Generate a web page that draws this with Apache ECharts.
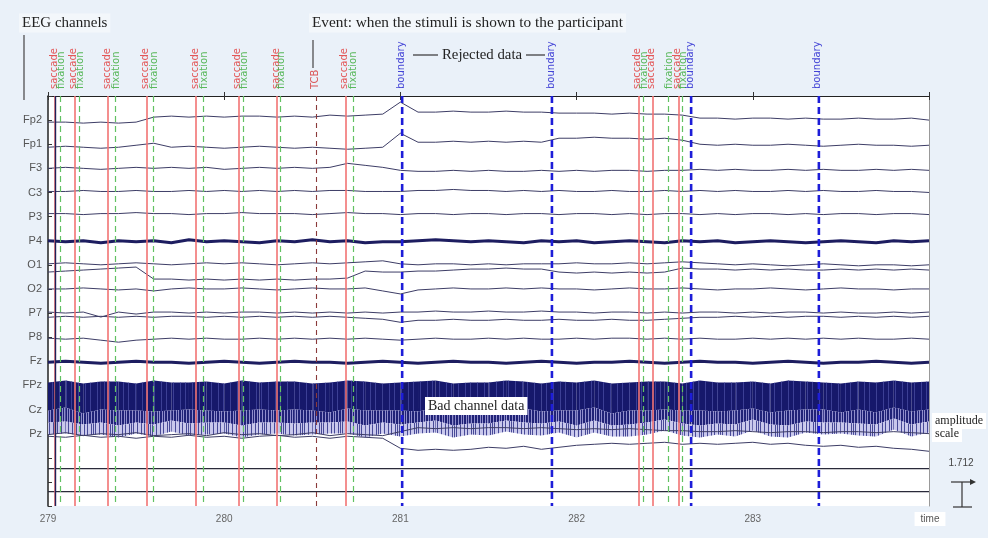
<!DOCTYPE html>
<html>
<head>
<meta charset="utf-8">
<script src="https://cdn.jsdelivr.net/npm/echarts@6/dist/echarts.min.js"></script>
<style>
html, body { margin: 0; padding: 0; background: #eaf1f9; }
#chart { width: 988px; height: 538px; }
</style>
</head>
<body>
<div id="chart"></div>
<script>
// sample times (s)
var times = [279.0,279.1,279.2,279.3,279.4,279.5,279.6,279.7,279.8,279.9,
             280.0,280.1,280.2,280.3,280.4,280.5,280.6,280.7,280.8,280.9,
             281.0,281.1,281.2,281.3,281.4,281.5,281.6,281.7,281.8,281.9,
             282.0,282.1,282.2,282.3,282.4,282.5,282.6,282.7,282.8,282.9,
             283.0,283.1,283.2,283.3,283.4,283.5,283.6,283.7,283.8,283.9,284.0];

var channelNames = ['Fp2','Fp1','F3','C3','P3','P4','O1','O2','P7','P8','Fz','FPz','Cz','Pz'];

// deviation of each trace from its channel baseline (up = positive, 24.1 units per channel row)
var fp2 = [-2,-2,-3,-2,-3,-2,3,4,3,4,3,4,4,3,4,3,5,4,5,6,18,8,8,9,8,8,9,8,8,7,7,7,6,7,6,6,5,2,2,1,2,2,1,2,1,1,2,1,1,2,0];
var fp1 = [-3,-2,-3,-4,-3,-1,1,-3,-2,-3,-4,-3,-2,-3,-4,-3,-4,-5,-4,-3,11,2,2,3,2,3,2,3,2,6,6,7,6,6,5,6,4,0,-1,0,-1,-1,0,-1,-2,-1,0,-1,-1,-2,-1];
var f3  = [0,1,0,-1,0,1,0,1,0,1,-1,0,1,0,1,0,1,5,3,1,-2,-3,-3,-2,-3,-2,-3,-3,-2,-3,-2,-3,-2,-2,-3,-2,-2,-1,-2,-1,-2,-2,-1,-2,-1,-2,-2,-1,-2,-1,-2];
var c3  = [1,1,2,1,1,2,1,1,2,1,2,1,2,1,2,1,2,2,1,1,1,2,2,3,2,2,1,2,1,2,1,1,2,1,1,2,1,2,1,2,1,1,2,1,2,1,1,2,1,1,0];
var p3  = [3,3,2,3,3,4,3,3,2,3,3,4,3,3,3,2,3,4,3,3,2,3,3,2,3,3,2,3,3,2,3,3,2,3,2,3,3,2,3,2,3,3,2,3,2,3,3,2,3,3,2];
var p4  = [0,-1,0,-2,0,-1,0,-2,1,-1,0,-1,-2,0,-1,1,-1,0,-2,-1,-1,0,1,0,-1,0,-1,-2,0,-1,0,-2,-1,0,-1,-2,0,-1,0,-2,-1,0,-1,-2,-1,0,-1,-2,0,-1,0];
var o1  = [1,2,1,0,1,2,1,0,1,2,1,2,1,0,1,2,1,2,3,4,1,0,1,1,0,1,0,1,1,1,2,1,1,2,1,2,3,2,1,0,1,0,-1,0,1,0,-1,0,0,-1,0];
var o1b = [0,1,2,3,4,5,-7,-7,-8,-7,-8,-7,-8,-7,-8,-7,-7,-6,1,0,0,1,1,2,3,3,4,3,3,0,-1,0,-1,0,-1,0,4,3,3,2,3,2,3,2,2,3,2,3,2,3,2];
var o2  = [0,0,1,0,-1,0,-2,0,1,0,0,1,0,-1,0,1,0,0,1,-2,-5,-1,0,1,0,0,1,0,1,0,0,-1,0,1,0,0,1,0,-1,0,0,1,0,-1,0,1,0,0,-1,0,0];
var p7  = [1,0,1,-4,1,-1,1,1,0,1,0,1,1,0,1,0,1,0,1,0,1,1,2,1,1,2,1,1,2,1,1,0,1,1,0,1,0,1,1,0,1,0,1,1,0,1,0,0,1,0,1];
var p7b = [3,4,3,4,3,4,3,4,4,3,4,3,4,3,4,3,4,3,2,1,-2,0,0,1,0,0,1,0,0,1,0,0,1,0,0,1,2,3,3,4,3,4,3,4,4,3,4,3,4,3,4];
var p8  = [-1,-2,-1,-3,-5,-3,-2,-1,-2,-1,-2,-2,-1,-2,-1,-2,-1,-2,-1,-2,-3,-2,-1,-2,-2,-1,-2,-1,-2,-2,-1,-2,-1,-1,-2,-1,-2,-1,-2,-2,-1,-2,-1,-2,-1,-2,-1,-2,-2,-1,-2];
var fz  = [-1,0,-1,-2,-1,0,-1,-1,-2,-1,0,-1,-2,-1,0,-1,-1,-2,-1,0,-1,-2,-1,0,-1,-1,-2,-1,0,-1,-2,-1,-1,0,-1,-2,-1,0,-1,-1,-2,-1,0,-1,-2,-1,-1,0,-1,-2,-1];
var pz  = [-1,1,-2,0,-1,1,-2,-1,0,-2,1,-1,0,-2,-1,1,-2,0,-1,-2,2,6,5,6,5,6,6,5,6,5,4,5,4,5,4,3,3,2,2,3,2,1,2,2,1,2,2,1,2,1,0];
var pz2 = [14,13,15,13,14,12,14,13,15,13,14,12,14,15,13,14,12,14,13,12,2,0,1,0,1,3,2,4,1,3,5,6,7,6,7,8,6,7,6,7,8,6,7,5,4,5,3,4,2,1,-1];

// bad channels FPz / Cz: ragged top edge and band depths
var bandTop   = [3,5,2,4,4,2,5,3,3,4,2,5,3,4,4,2,3,5,4,2,3,4,5,2,3,3,5,4,2,4,3,5,2,3,4,4,2,5,3,3,4,2,5,4,3,2,4,3,5,3,4];
var darkDepth = [28,27,30,28,29,27,31,28,27,29,28,30,27,29,28,27,30,28,29,27,28,30,28,27,29,28,30,27,28,29,28,27,30,28,29,28,27,30,29,28,27,29,30,28,27,29,28,30,27,29,28];
var midDepth  = [12,14,11,13,15,12,13,10,14,12,11,15,13,12,14,12,10,13,15,12,14,11,12,15,12,13,10,14,12,11,15,13,12,14,12,10,13,15,12,14,11,12,15,12,13,10,14,12,11,13,12];
var lightDepth= [12,12,11,12,12,11,12,11,12,12,11,12,12,11,12,12,11,12,12,11,12,11,12,12,11,12,11,12,12,11,12,12,11,12,12,11,12,12,11,12,11,12,12,11,12,11,12,12,11,12,11];

// flat channels below Pz
var flatLevels = [15.45, 16.4];

// events (s)
var saccadeTimes  = [279.04,279.15,279.34,279.56,279.84,280.08,280.30,280.69,282.35,282.43,282.58];
var fixationTimes = [279.07,279.18,279.38,279.60,279.88,280.11,280.32,280.73,282.38,282.52,282.60];
var boundaryTimes = [281.01,281.86,282.65,283.375];
var stimTimes     = [280.52];

var unitsPerRow = 24.1;
var traceColor = '#3d3d66';

var chart = echarts.init(document.getElementById('chart'));

function trace(name, row, dev, width, color) {
  return {
    name: name, type: 'line', symbol: 'none', z: 4, silent: true,
    data: times.map(function (t, i) { return [t, row - dev[i] / unitsPerRow]; }),
    lineStyle: { color: color || traceColor, width: width || 1 }
  };
}

function stripes(fg, xs) {
  var c = document.createElement('canvas');
  c.width = 19; c.height = 8;
  var g = c.getContext('2d');
  g.fillStyle = fg;
  xs.forEach(function (x) { g.fillRect(x, 0, 1, 8); });
  return c;
}
var darkPattern = { image: stripes('rgba(70,74,160,0.8)', [2, 9, 14]), repeat: 'repeat' };
var midPattern = { image: stripes('rgba(20,22,110,0.9)', [0, 1, 3, 4, 6, 8, 9, 11, 13, 14, 16, 17]), repeat: 'repeat' };
var lightPattern = { image: stripes('rgba(40,42,130,0.8)', [0, 4, 8, 11, 15, 17]), repeat: 'repeat' };

// band edges in row units, one segment per pair of samples
var bandRows = times.map(function (t, i) {
  var top = 12 - bandTop[i] / unitsPerRow;
  var b1 = top + darkDepth[i] / unitsPerRow;
  var b2 = b1 + midDepth[i] / unitsPerRow;
  var b3 = b2 + lightDepth[i] / unitsPerRow;
  return [t, top, b1, b2, b3];
});
var bandSegs = bandRows.slice(0, -1).map(function (r, i) {
  return r.concat(bandRows[i + 1]);
});

var eventLines = [];
saccadeTimes.forEach(function (t) {
  eventLines.push({ xAxis: t, lineStyle: { color: '#f27373', width: 1.6, type: 'solid' } });
});
fixationTimes.forEach(function (t) {
  eventLines.push({ xAxis: t, lineStyle: { color: '#62c262', width: 1.2, type: [6, 4] } });
});
stimTimes.forEach(function (t) {
  eventLines.push({ xAxis: t, lineStyle: { color: '#8a3a3a', width: 1.1, type: [5, 4] } });
});
eventLines.push({ xAxis: 279.035, lineStyle: { color: '#22225a', width: 1.4, type: 'solid' } });

var series = [
  {
    name: 'events', type: 'line', symbol: 'none', z: 1, silent: true,
    data: [[279, 0], [284, 0]], lineStyle: { opacity: 0 },
    markLine: { symbol: ['none', 'none'], silent: true, label: { show: false }, data: eventLines }
  },
  {
    name: 'FPz / Cz', type: 'custom', z: 3, silent: true,
    data: bandSegs,
    encode: { x: [0, 5], y: [1, 4] },
    renderItem: function (params, api) {
      var p = function (xi, yi) { return api.coord([api.value(xi), api.value(yi)]); };
      var a = [p(0, 1), p(0, 2), p(0, 3), p(0, 4)];
      var b = [p(5, 6), p(5, 7), p(5, 8), p(5, 9)];
      function quad(k) { return [a[k], b[k], b[k + 1], a[k + 1]]; }
      return {
        type: 'group',
        children: [
          { type: 'polygon', shape: { points: quad(0) }, style: { fill: '#16186b' } },
          { type: 'polygon', shape: { points: quad(0) }, style: { fill: darkPattern } },
          { type: 'polygon', shape: { points: quad(1) }, style: { fill: '#8f8dcc' } },
          { type: 'polygon', shape: { points: quad(1) }, style: { fill: midPattern } },
          { type: 'polygon', shape: { points: quad(2) }, style: { fill: '#c9c8ec' } },
          { type: 'polygon', shape: { points: quad(2) }, style: { fill: lightPattern } }
        ]
      };
    }
  },
  trace('Fp2', 1, fp2),
  trace('Fp1', 2, fp1),
  trace('F3', 3, f3),
  trace('C3', 4, c3),
  trace('P3', 5, p3),
  trace('P4', 6, p4, 3, '#1d1d60'),
  trace('O1', 7, o1),
  trace('O1b', 7.3, o1b),
  trace('O2', 8, o2),
  trace('P7', 9, p7),
  trace('P7b', 9.3, p7b),
  trace('P8', 10, p8),
  trace('Fz', 11, fz, 3, '#1d1d60'),
  trace('Pz', 14, pz),
  trace('Pz2', 14.69, pz2)
];
flatLevels.forEach(function (v, k) {
  series.push({
    name: 'flat' + k, type: 'line', symbol: 'none', z: 4, silent: true,
    data: [[279, v], [284, v]], lineStyle: { color: '#2a2a3a', width: 1.2 }
  });
});
// boundary events drawn last so they sit above the bad-channel band
boundaryTimes.forEach(function (t, k) {
  series.push({
    name: 'boundary' + k, type: 'line', symbol: 'none', z: 10, silent: true,
    data: [[t, 0], [t, 17]], lineStyle: { color: '#1d1dd8', width: 2.6, type: [7, 4] }
  });
});

chart.setOption({
  backgroundColor: '#eaf1f9',
  animation: false,
  grid: { left: 48, right: 59, top: 96, bottom: 32, show: true, backgroundColor: '#ffffff', borderWidth: 0 },
  xAxis: [
    {
      type: 'value', min: 279, max: 284, interval: 1,
      axisLine: { lineStyle: { color: '#333', width: 1.2 } },
      axisTick: { inside: true, length: 4, lineStyle: { color: '#333' } },
      axisLabel: {
        color: '#666', fontSize: 10, fontFamily: 'Liberation Sans', margin: 8,
        formatter: function (v) { return v >= 284 ? '' : String(v); }
      },
      splitLine: { show: false }
    },
    {
      type: 'value', position: 'top', min: 279, max: 284, interval: 1,
      axisLine: { onZero: false, lineStyle: { color: '#222', width: 1.2 } },
      axisTick: { inside: true, length: 4, lineStyle: { color: '#333' } },
      axisLabel: { show: false }, splitLine: { show: false }
    }
  ],
  yAxis: [
    {
      type: 'value', inverse: true, min: 0, max: 17, interval: 1,
      axisLine: { show: true, lineStyle: { color: '#222', width: 1.5 } },
      axisTick: { show: true, inside: true, length: 4, lineStyle: { color: '#333' } },
      axisLabel: {
        color: '#555', fontSize: 11, fontFamily: 'Liberation Sans', margin: 6,
        formatter: function (v) { return channelNames[v - 1] || ''; }
      },
      splitLine: { show: false }
    },
    {
      type: 'value', position: 'right', inverse: true, min: 0, max: 17, interval: 1,
      axisLine: { show: true, lineStyle: { color: '#999', width: 1 } },
      axisTick: { show: false }, axisLabel: { show: false }, splitLine: { show: false }
    }
  ],
  series: series
});

// event labels above the plot, placed through the x scale
var graphics = [];
function eventLabel(t, text, color, dx) {
  var x = chart.convertToPixel({ xAxisIndex: 0 }, t) + (dx || 0);
  graphics.push({
    type: 'text', x: x, y: 89, rotation: Math.PI / 2, silent: true,
    style: { text: text, fill: color, font: '10px "DejaVu Sans"', textAlign: 'left', textVerticalAlign: 'middle', align: 'left', verticalAlign: 'middle', opacity: 0.85 }
  });
}
saccadeTimes.forEach(function (t) { eventLabel(t, 'saccade', '#e23c3c', -1); });
fixationTimes.forEach(function (t) { eventLabel(t, 'fixation', '#3fae3f', 1); });
boundaryTimes.forEach(function (t) { eventLabel(t, 'boundary', '#2424d0', -1); });
stimTimes.forEach(function (t) { eventLabel(t, 'TCB', '#d83a3a', 0); });

function note(x, y, text, font, bg) {
  graphics.push({
    type: 'text', x: x, y: y, silent: true, z: 20,
    style: { text: text, fill: '#222', font: font + ' "Liberation Serif"', textAlign: 'left', textVerticalAlign: 'middle', align: 'left', verticalAlign: 'middle', backgroundColor: bg, padding: [2, 3] }
  });
}
function seg(x1, y1, x2, y2, color, w) {
  graphics.push({ type: 'line', silent: true, z: 20, shape: { x1: x1, y1: y1, x2: x2, y2: y2 }, style: { stroke: color || '#333', lineWidth: w || 1 } });
}

note(19, 23, 'EEG channels', '15px', '#f3f7fb');
seg(24, 35, 24, 100, '#444', 1.2);
note(309, 23, 'Event: when the stimuli is shown to the participant', '15.3px', '#f3f7fb');
seg(313, 40, 313, 68, '#444', 1.2);
seg(413, 55, 438, 55, '#333', 1.2);
note(439, 55, 'Rejected data', '14.8px', null);
seg(526, 55, 545, 55, '#333', 1.2);
note(425, 406, 'Bad channel data', '14px', '#ffffff');
note(932, 421, 'amplitude', '12px', '#ffffff');
note(932, 434, 'scale', '12px', '#ffffff');
graphics.push({ type: 'text', x: 961, y: 463, silent: true, style: { text: '1.712', fill: '#444', font: '10px "Liberation Sans"', textAlign: 'center', align: 'center', textVerticalAlign: 'middle', verticalAlign: 'middle' } });
seg(962, 482, 962, 507, '#333', 1.2);
seg(951, 482, 972, 482, '#333', 1.2);
seg(953, 507, 972, 507, '#333', 1.2);
graphics.push({ type: 'polygon', silent: true, shape: { points: [[976, 482], [970, 479], [970, 485]] }, style: { fill: '#333' } });
graphics.push({ type: 'text', x: 930, y: 519, silent: true, style: { text: 'time', fill: '#555', font: '10px "Liberation Sans"', textAlign: 'center', align: 'center', textVerticalAlign: 'middle', verticalAlign: 'middle', backgroundColor: '#ffffff', padding: [2, 6] } });

chart.setOption({ graphic: graphics });
</script>
</body>
</html>
